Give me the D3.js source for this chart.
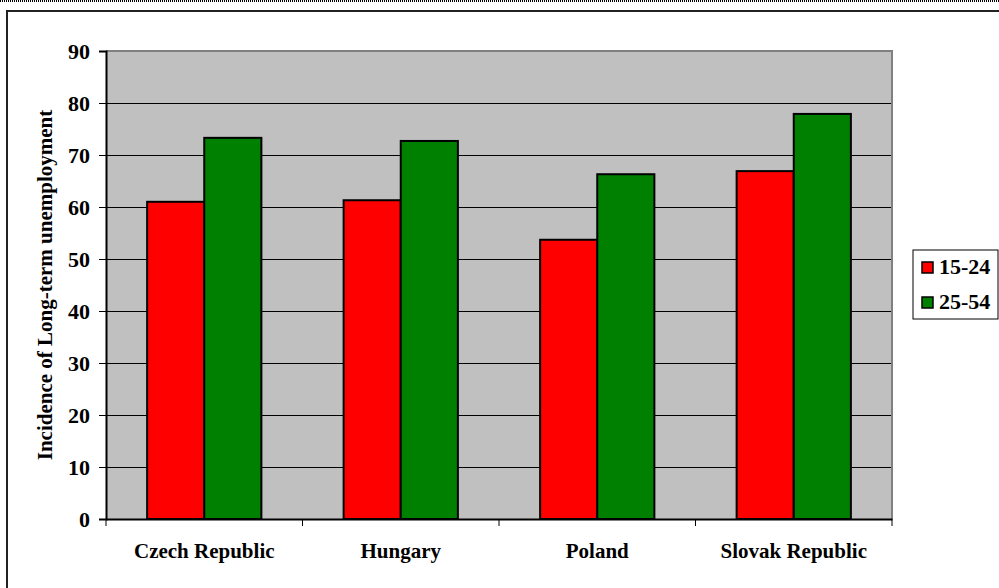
<!DOCTYPE html>
<html>
<head>
<meta charset="utf-8">
<script src="https://cdn.jsdelivr.net/npm/d3@7"></script>
<style>
  body { margin: 0; background: #fff; }
  svg { display: block; font-family: "Liberation Serif", "Times New Roman", serif; font-weight: bold; }
</style>
</head>
<body>
<svg id="chart" width="999" height="588"></svg>
<script>
// data
var categories = ["Czech Republic", "Hungary", "Poland", "Slovak Republic"];
var seriesNames = ["15-24", "25-54"];
var youth = [61.0, 61.3, 53.7, 66.9];
var prime = [73.3, 72.7, 66.3, 77.9];
var yTicks = [0, 10, 20, 30, 40, 50, 60, 70, 80, 90];
var colors = ["#ff0000", "#008000"];

var svg = d3.select("#chart");

// outer frame + dotted top line
svg.append("line")
    .attr("x1", 0).attr("x2", 999).attr("y1", 1).attr("y2", 1)
    .attr("stroke", "#000").attr("stroke-width", 2)
    .attr("stroke-dasharray", "1,1");
svg.append("rect")
    .attr("x", 7).attr("y", 11).attr("width", 1000).attr("height", 600)
    .attr("fill", "none").attr("stroke", "#222").attr("stroke-width", 2);

var margin = {left: 106, top: 51, right: 892, bottom: 519};

var x = d3.scaleBand()
    .domain(categories)
    .range([margin.left, margin.right]);

var xInner = d3.scaleBand()
    .domain(seriesNames)
    .range([0, x.bandwidth()])
    .paddingOuter(0.72);

var y = d3.scaleLinear()
    .domain([0, 90])
    .range([margin.bottom, margin.top]);

// plot background
svg.append("rect")
    .attr("x", margin.left).attr("y", margin.top)
    .attr("width", margin.right - margin.left)
    .attr("height", margin.bottom - margin.top)
    .attr("fill", "#c0c0c0");

// gridlines
svg.append("g").selectAll("line")
    .data(yTicks.filter(function(d) { return d > 0 && d < 90; }))
    .enter().append("line")
    .attr("x1", margin.left).attr("x2", margin.right)
    .attr("y1", function(d) { return Math.round(y(d)) + 0.5; })
    .attr("y2", function(d) { return Math.round(y(d)) + 0.5; })
    .attr("stroke", "#000").attr("stroke-width", 1);

// plot border top/right grey
svg.append("path")
    .attr("d", "M" + margin.left + "," + margin.top + "H" + margin.right + "V" + margin.bottom)
    .attr("fill", "none").attr("stroke", "#808080").attr("stroke-width", 2);

// bars
var rows = categories.map(function(c, i) {
  return {cat: c, vals: [{s: seriesNames[0], v: youth[i]}, {s: seriesNames[1], v: prime[i]}]};
});

var groups = svg.append("g").selectAll("g")
    .data(rows).enter().append("g")
    .attr("transform", function(d) { return "translate(" + x(d.cat) + ",0)"; });

groups.selectAll("rect")
    .data(function(d) { return d.vals; })
    .enter().append("rect")
    .attr("x", function(d) { return xInner(d.s); })
    .attr("width", xInner.bandwidth())
    .attr("y", function(d) { return y(d.v); })
    .attr("height", function(d) { return y(0) - y(d.v); })
    .attr("fill", function(d, i) { return colors[i]; })
    .attr("stroke", "#000").attr("stroke-width", 2);

// y axis
var yAxis = svg.append("g")
    .attr("transform", "translate(" + margin.left + ",0)")
    .call(d3.axisLeft(y).tickValues(yTicks).tickSize(7).tickPadding(9));
yAxis.select(".domain").attr("stroke", "#000").attr("stroke-width", 2);
yAxis.selectAll("line").attr("stroke", "#000");
yAxis.selectAll("text")
    .attr("font-size", 22).attr("font-weight", "bold")
    .attr("font-family", "Liberation Serif, serif").attr("fill", "#000");

// x axis
var xAxis = svg.append("g")
    .attr("transform", "translate(0," + margin.bottom + ")")
    .call(d3.axisBottom(x).tickSize(0).tickPadding(24));
xAxis.select(".domain").attr("stroke", "#000").attr("stroke-width", 2);
xAxis.selectAll("text")
    .attr("font-size", 21).attr("font-weight", "bold")
    .attr("font-family", "Liberation Serif, serif").attr("fill", "#000");

// category separator ticks
var bounds = categories.map(function(c) { return x(c); }).concat([margin.right]);
svg.append("g").selectAll("line")
    .data(bounds).enter().append("line")
    .attr("x1", function(d) { return d; }).attr("x2", function(d) { return d; })
    .attr("y1", margin.bottom).attr("y2", margin.bottom + 7)
    .attr("stroke", "#000").attr("stroke-width", 1);

// y title
svg.append("text")
    .attr("transform", "translate(52," + ((margin.top + margin.bottom) / 2) + ") rotate(-90)")
    .attr("text-anchor", "middle")
    .attr("font-size", 21)
    .text("Incidence of Long-term unemployment");

// legend
var legend = svg.append("g");
legend.append("rect")
    .attr("x", 913).attr("y", 250).attr("width", 85).attr("height", 69)
    .attr("fill", "#fff").attr("stroke", "#000").attr("stroke-width", 1);
var items = legend.selectAll("g.item")
    .data(seriesNames).enter().append("g")
    .attr("transform", function(d, i) { return "translate(922," + (262 + i * 35) + ")"; });
items.append("rect")
    .attr("width", 11).attr("height", 11)
    .attr("fill", function(d, i) { return colors[i]; })
    .attr("stroke", "#000").attr("stroke-width", 1.5);
items.append("text")
    .attr("x", 17).attr("y", 12)
    .attr("font-size", 22)
    .text(function(d) { return d; });
</script>
</body>
</html>
